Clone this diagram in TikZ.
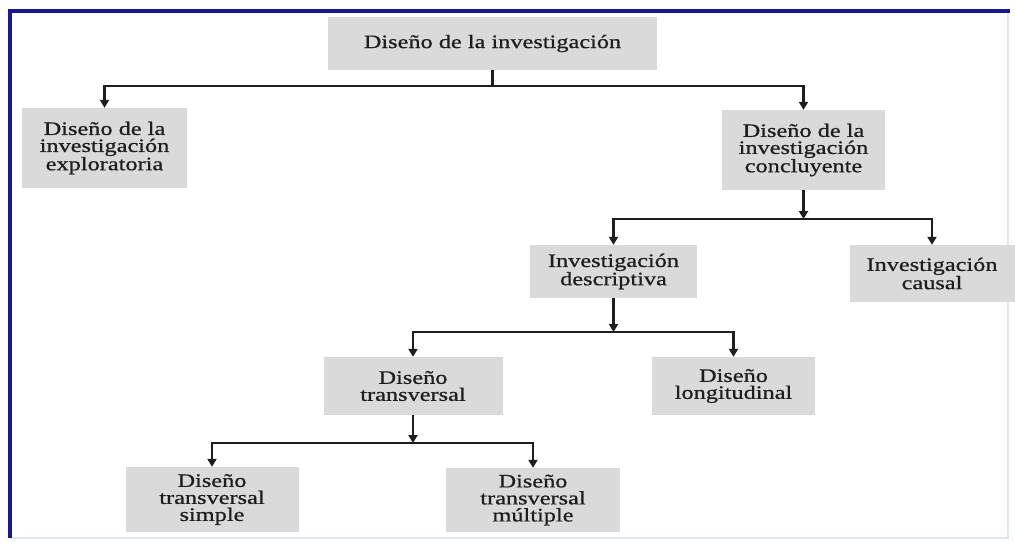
\documentclass[tikz,border=0pt]{standalone}
\usepackage{fontspec}
\setmainfont{Liberation Serif}[FakeStretch=1.28,FakeBold=0.8]
\usetikzlibrary{arrows.meta}
\definecolor{boxgray}{RGB}{218,218,218}
\definecolor{framedark}{RGB}{24,24,150}
\definecolor{framelight}{RGB}{222,230,246}
\definecolor{ink}{RGB}{30,30,30}
\tikzset{
  stepbox/.style={fill=boxgray, inner sep=0pt, align=center, text=ink,
    font=\fontsize{19}{17}\selectfont},
  link/.style={draw=ink, line width=2.2pt},
  arr/.style={link, -{Triangle[width=9pt,length=8pt]}}
}
\begin{document}
\begin{tikzpicture}[x=1pt,y=-1pt]
\useasboundingbox (0,0) rectangle (1015,542);
\fill[white] (0,0) rectangle (1015,542);
% frame
\draw[framelight, line width=2pt] (1008,11) -- (1008,538) -- (10,538);
\draw[framedark, line width=4pt] (10,538) -- (10,11) -- (1010,11);

% boxes
\node[stepbox, minimum width=329pt, minimum height=53pt] (top) at (492.5,43.5) {Diseño de la investigación};
\node[stepbox, minimum width=165pt, minimum height=80pt] (expl) at (104.5,148) {Diseño de la\\investigación\\exploratoria};
\node[stepbox, minimum width=163pt, minimum height=80pt] (conc) at (803.5,150) {Diseño de la\\investigación\\concluyente};
\node[stepbox, minimum width=167pt, minimum height=53pt] (desc) at (613.5,271.5) {Investigación\\descriptiva};
\node[stepbox, minimum width=165pt, minimum height=57pt] (caus) at (932,273.5) {Investigación\\causal};
\node[stepbox, minimum width=179pt, minimum height=58pt] (tran) at (413,386) {Diseño\\transversal};
\node[stepbox, minimum width=163pt, minimum height=58pt] (long) at (733.5,386) {Diseño\\longitudinal};
\node[stepbox, minimum width=173pt, minimum height=65pt] (simp) at (212,499.5) {Diseño\\transversal\\simple};
\node[stepbox, minimum width=174pt, minimum height=64pt] (mult) at (533,500) {Diseño\\transversal\\múltiple};

% junctions
\coordinate (j1) at (top.south |- 0,86);
\coordinate (j2) at (conc.south |- 0,219);
\coordinate (j3) at (desc.south |- 0,332);
\coordinate (j4) at (tran.south |- 0,443);

% connectors
\draw[link] (top.south) -- (j1);
\draw[arr] (j1) -| (expl.north);
\draw[arr] (j1) -| (conc.north);

\draw[arr] (conc.south) -- (j2);
\draw[arr] (j2) -| (desc.north);
\draw[arr] (j2) -| (caus.north);

\draw[arr] (desc.south) -- (j3);
\draw[arr] (j3) -| (tran.north);
\draw[arr] (j3) -| (long.north);

\draw[arr] (tran.south) -- (j4);
\draw[arr] (j4) -| (simp.north);
\draw[arr] (j4) -| (mult.north);
\end{tikzpicture}
\end{document}
